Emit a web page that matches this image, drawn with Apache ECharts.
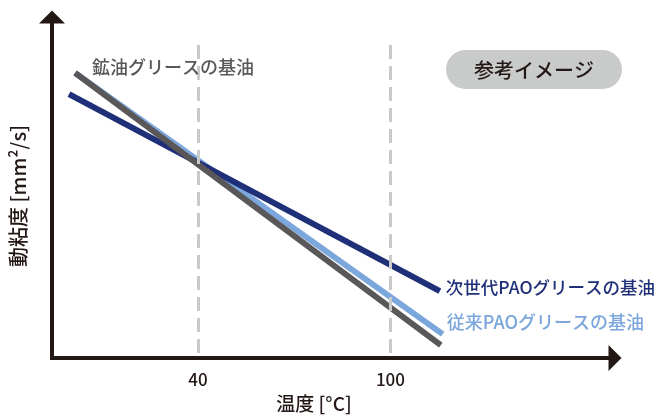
<!DOCTYPE html>
<html>
<head>
<meta charset="utf-8">
<script src="https://cdn.jsdelivr.net/npm/echarts@6/dist/echarts.min.js"></script>
<style>html,body{margin:0;padding:0;background:#fff;}#c{width:655px;height:419px;}</style>
</head>
<body>
<div id="c"></div>
<script>
// Series (temperature °C, relative viscosity level)
const seriesNames = ['従来PAOグリースの基油', '次世代PAOグリースの基油', '鉱油グリースの基油'];
const convPaoX = [1.7, 116.3];
const convPaoY = [83.6, 7.0];
const nextPaoX = [-0.2, 115.4];
const nextPaoY = [77.4, 19.6];
const mineralX = [1.7, 115.7];
const mineralY = [83.6, 3.8];
const tickTemps = [40, 100];
const refLineTop = 91.8;

const FONT = '"Noto Sans CJK JP", "Noto Sans", sans-serif';
const W = 500;
const pair = (xs, ys) => xs.map((x, i) => [x, ys[i]]);

const chart = echarts.init(document.getElementById('c'), null, {renderer: 'canvas'});
chart.setOption({
  animation: false,
  backgroundColor: '#ffffff',
  textStyle: {fontFamily: FONT},
  grid: {left: 52, right: 40, top: 17, bottom: 61, containLabel: false},
  xAxis: {
    type: 'value', min: -5.5, max: 170,
    axisLine: {show: true, onZero: false, symbol: ['none', 'triangle'], symbolSize: [26, 13],
      lineStyle: {color: '#231815', width: 4, cap: 'square'}},
    axisTick: {show: false},
    splitLine: {show: false},
    axisLabel: {show: true, customValues: tickTemps, color: '#231815', fontSize: 17, fontWeight: W, margin: 13, fontFamily: FONT}
  },
  yAxis: {
    type: 'value', min: 0, max: 100,
    axisLine: {show: true, onZero: false, symbol: ['none', 'triangle'], symbolSize: [26, 13],
      lineStyle: {color: '#231815', width: 4, cap: 'square'}},
    axisTick: {show: false},
    splitLine: {show: false},
    axisLabel: {show: false}
  },
  graphic: [
    {type: 'text', x: 18, y: 196, rotation: Math.PI / 2, z: 10,
      style: {text: '動粘度 [mm²/s]', fill: '#231815', fontSize: 20, fontWeight: W, fontFamily: FONT, align: 'center', verticalAlign: 'middle'}},
    {type: 'text', x: 314, y: 404, z: 10,
      style: {text: '温度 [°C]', fill: '#231815', fontSize: 19, fontWeight: W, fontFamily: FONT, align: 'center', verticalAlign: 'middle'}},
    {type: 'text', x: 92, y: 67, z: 10,
      style: {text: seriesNames[2], fill: '#595757', fontSize: 18, fontWeight: W, fontFamily: FONT, align: 'left', verticalAlign: 'middle'}},
    {type: 'rect', shape: {x: 446, y: 50, width: 176, height: 39, r: 19.5}, z: 9,
      style: {fill: '#c9caca'}},
    {type: 'text', x: 534, y: 70, z: 10,
      style: {text: '参考イメージ', fill: '#231815', fontSize: 20, fontWeight: W, fontFamily: FONT, align: 'center', verticalAlign: 'middle'}}
  ],
  series: [
    {
      type: 'line', name: 'ref', data: [], z: 1, silent: true,
      markLine: {
        silent: true, symbol: ['none', 'none'], label: {show: false},
        lineStyle: {color: '#c9caca', type: [14, 7], width: 3},
        data: tickTemps.map(t => [{coord: [t, refLineTop]}, {coord: [t, 0]}])
      }
    },
    {
      type: 'line', name: seriesNames[0], data: pair(convPaoX, convPaoY), z: 2,
      symbol: 'none', showSymbol: false,
      lineStyle: {color: '#7ba7dc', width: 6, cap: 'butt'},
      endLabel: {show: true, formatter: '{a}', color: '#7ba7dc', fontSize: 18, fontWeight: W, fontFamily: FONT, distance: 4, offset: [0, -12]}
    },
    {
      type: 'line', name: seriesNames[1], data: pair(nextPaoX, nextPaoY), z: 3,
      symbol: 'none', showSymbol: false,
      lineStyle: {color: '#1f2f78', width: 6, cap: 'butt'},
      endLabel: {show: true, formatter: '{a}', color: '#1f2f78', fontSize: 17.5, fontWeight: W, fontFamily: FONT, distance: 6, offset: [0, -4]}
    },
    {
      type: 'line', name: seriesNames[2], data: pair(mineralX, mineralY), z: 4,
      symbol: 'none', showSymbol: false,
      lineStyle: {color: '#595757', width: 6, cap: 'butt'}
    }
  ]
});
</script>
</body>
</html>
